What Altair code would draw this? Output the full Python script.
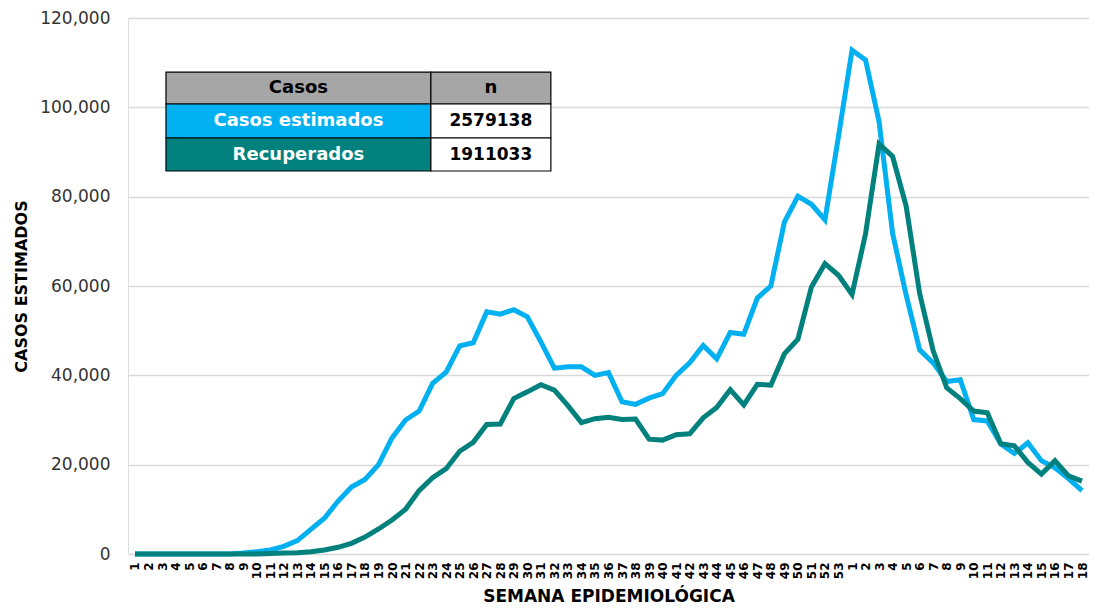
import altair as alt
import pandas as pd

weeks = [str(w) for w in range(1, 54)] + [str(w) for w in range(1, 19)]

estimados = [0, 0, 0, 0, 0, 0, 0, 0, 200, 500, 900, 1700, 3000, 5500, 8000, 11800,
             15000, 16700, 20000, 26000, 30000, 32000, 38200, 40700, 46600, 47300,
             54200, 53700, 54700, 53100, 47500, 41600, 41900, 41900, 40000, 40600,
             34100, 33500, 34900, 35900, 40000, 42800, 46700, 43700, 49600, 49200,
             57300, 60000, 74300, 80100, 78300, 74800, 93500,
             112800, 110600, 96800, 71800, 58000, 45700, 42800, 38600, 39000, 30100,
             29800, 24600, 22500, 24900, 20900, 19300, 16900, 14200]

recuperados = [0, 0, 0, 0, 0, 0, 0, 0, 0, 0, 100, 200, 300, 500, 900, 1500,
               2400, 3800, 5600, 7600, 10000, 14200, 17100, 19100, 23000, 25000,
               29000, 29100, 34800, 36300, 37900, 36700, 33200, 29400, 30300, 30600,
               30100, 30200, 25700, 25500, 26700, 26900, 30500, 32800, 36800, 33400,
               38000, 37800, 44800, 48100, 59800, 65000, 62400,
               58100, 71700, 91800, 89000, 77900, 58300, 45500, 37200, 34800, 32000,
               31600, 24700, 24200, 20500, 17900, 20900, 17500, 16300]

series_names = ["Casos estimados", "Recuperados"]
series_colors = ["#00B0F0", "#00817E"]
series_totals = ["2579138", "1911033"]
table_header = ["Casos", "n"]
header_color = "#A6A6A6"
y_ticks = [0, 20000, 40000, 60000, 80000, 100000, 120000]

FONT = "DejaVu Sans"

rows = []
for i, w in enumerate(weeks):
    rows.append({"idx": i, "serie": series_names[0], "valor": estimados[i]})
    rows.append({"idx": i, "serie": series_names[1], "valor": recuperados[i]})
df = pd.DataFrame(rows)

label_array = "[" + ",".join("'" + w + "'" for w in weeks) + "]"

x_scale = alt.Scale(domain=[-0.517, 70.517], nice=False, zero=False)
y_scale = alt.Scale(domain=[0, 120000], nice=False)

x_axis = alt.Axis(values=list(range(len(weeks))), labelExpr=label_array + "[datum.value]",
                  labelAngle=270, labelAlign="right", labelBaseline="middle",
                  labelFont=FONT, labelFontSize=12, labelFontWeight="bold",
                  labelColor="#000000", labelPadding=8, labelOverlap=False,
                  labelFlush=False, labelBound=False,
                  ticks=False, domain=False, grid=False,
                  title="SEMANA EPIDEMIOLÓGICA", titleFont=FONT, titleFontSize=17,
                  titleFontWeight="bold", titleColor="#000000", titlePadding=10)
y_axis = alt.Axis(values=y_ticks, format=",d",
                  labelFont=FONT, labelFontSize=17, labelColor="#333333",
                  labelPadding=18, ticks=False, domain=False, labelFlush=False,
                  grid=True, gridColor="#D9D9D9", gridWidth=1.5,
                  title="CASOS ESTIMADOS", titleFont=FONT, titleFontSize=16,
                  titleFontWeight="bold", titleColor="#000000", titlePadding=10)

lines = alt.Chart(df).mark_line(strokeWidth=5, strokeJoin="miter").encode(
    x=alt.X("idx:Q", scale=x_scale, axis=x_axis),
    y=alt.Y("valor:Q", scale=y_scale, axis=y_axis),
    color=alt.Color("serie:N", scale=alt.Scale(domain=series_names, range=series_colors), legend=None),
    order=alt.Order("idx:Q"),
    detail="serie:N",
)

# Table overlay (positioned in data units of the chart scales)
col_x = [2.29, 21.87, 30.74]
row_y = [107900, 100750, 93130, 85750]
cells = []
texts = []
row_labels = [table_header] + [[series_names[k], series_totals[k]] for k in range(2)]
row_fill = [[header_color, header_color]] + [[series_colors[k], "#FFFFFF"] for k in range(2)]
row_textcol = [["#000000", "#000000"]] + [["#FFFFFF", "#000000"] for k in range(2)]
row_size = [[18, 18]] + [[18, 17] for k in range(2)]
for r in range(3):
    for c in range(2):
        cells.append({"x0": col_x[c], "x1": col_x[c + 1], "y0": row_y[r], "y1": row_y[r + 1],
                      "fill": row_fill[r][c]})
        texts.append({"xm": (col_x[c] + col_x[c + 1]) / 2, "ym": (row_y[r] + row_y[r + 1]) / 2,
                      "txt": row_labels[r][c], "tcol": row_textcol[r][c], "fs": row_size[r][c]})
cells_df = pd.DataFrame(cells)
texts_df = pd.DataFrame(texts)

rects = alt.Chart(cells_df).mark_rect(stroke="#000000", strokeWidth=1.2).encode(
    x=alt.X("x0:Q", scale=x_scale, axis=x_axis), x2="x1:Q",
    y=alt.Y("y0:Q", scale=y_scale, axis=y_axis), y2="y1:Q",
    fill=alt.Fill("fill:N", scale=None),
)

table_text = alt.Chart(texts_df).mark_text(font=FONT, fontWeight="bold",
                                          baseline="middle", align="center").encode(
    x=alt.X("xm:Q", scale=x_scale, axis=x_axis),
    y=alt.Y("ym:Q", scale=y_scale, axis=y_axis),
    text="txt:N",
    color=alt.Color("tcol:N", scale=None),
    size=alt.Size("fs:Q", scale=None),
)

chart = alt.layer(lines, rects, table_text).properties(
    width=961, height=536,
    autosize=alt.AutoSizeParams(type="none"),
    padding={"left": 120, "top": 10, "right": 0, "bottom": 53},
).configure_view(strokeWidth=0).configure(background="#FFFFFF")

chart.save("out.html", embed_options={"renderer": "svg", "actions": False})
